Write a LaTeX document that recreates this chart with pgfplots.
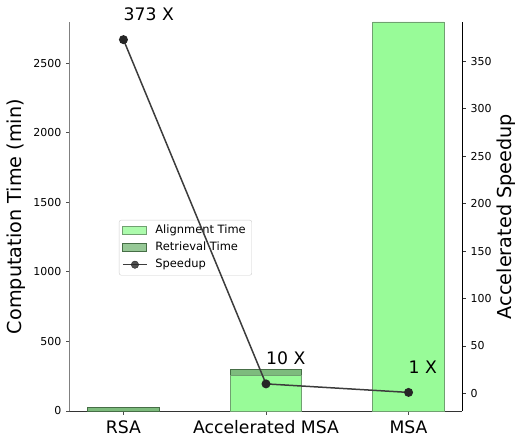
\documentclass[border=0pt]{standalone}
\usepackage{fontspec}
\setmainfont{DejaVu Sans}
\usepackage{pgfplots}
\pgfplotsset{compat=1.18}
\definecolor{alignfill}{RGB}{152,251,152}
\definecolor{alignedge}{RGB}{112,160,112}
\definecolor{retfill}{RGB}{125,187,125}
\definecolor{retedge}{RGB}{70,110,70}
\definecolor{spline}{RGB}{60,60,60}
\pgfplotsset{barlegend/.style={legend image code/.code={\draw[##1, sharp corners] (0bp,-3.5bp) rectangle (24bp,4bp); \path (29bp,0bp);}}}
\begin{document}
\begin{tikzpicture}
\path[use as bounding box] (-70bp,-26bp) rectangle (447bp,411bp);
\begin{axis}[
  at={(0bp,0bp)}, anchor=south west,
  scale only axis, width=392bp, height=389bp,
  xmin=-0.375, xmax=2.375, ymin=0, ymax=2795,
  clip=false,
  ybar stacked, bar width=71.3bp,
  axis x line*=bottom, axis y line*=left,
  x axis line style={black!80, line width=0.8bp, -},
  y axis line style={black!50, line width=1bp, -},
  xtick={0,1,2}, xticklabels={RSA, Accelerated MSA, MSA},
  ytick={0,500,1000,1500,2000,2500},
  /pgf/number format/.cd, 1000 sep={}, assume math mode=true, /pgfplots/.cd,
  tick align=outside, major tick length=3.5bp,
  tick style={black!70, line width=0.8bp},
  xticklabel style={font=\fontsize{17.3}{20}\selectfont, inner sep=0pt, anchor=base, yshift=-18.5bp},
  yticklabel style={font=\fontsize{11}{13}\selectfont, inner sep=0pt, anchor=east, xshift=-5bp},
  ylabel={Computation Time (min)},
  ylabel style={font=\fontsize{19.3}{23}\selectfont, inner sep=0pt, at={([xshift=-44bp]axis description cs:0,0.5)}, anchor=south},
  legend cell align=left,
  legend style={at={(axis description cs:0.125,0.491)}, anchor=north west,
    font=\fontsize{11.5}{13}\selectfont, draw=black!20, rounded corners=2bp,
    fill=white, fill opacity=0.8, text opacity=1, inner xsep=3bp, inner ysep=2bp,
    nodes={inner xsep=3bp, inner ysep=3bp, text height=8.5bp, text depth=2.5bp}, row sep=0pt},
]
\addplot[fill=alignfill, draw=alignedge, line width=0.9bp, barlegend]
  coordinates {(0,0) (1,254) (2,2795)};
\addlegendentry{Alignment Time}
\addplot[fill=retfill, draw=retedge, line width=0.9bp, barlegend]
  coordinates {(0,28) (1,41) (2,0)};
\addlegendentry{Retrieval Time}
\addlegendimage{legend image code/.code={\draw[spline, line width=1.5bp, sharp corners] (0bp,0bp) -- (24bp,0bp); \fill[black!85] (12bp,0bp) circle (3.7bp); \path (29bp,0bp);}}
\addlegendentry{Speedup}
\end{axis}
\begin{axis}[
  at={(0bp,0bp)}, anchor=south west,
  scale only axis, width=392bp, height=389bp,
  xmin=-0.375, xmax=2.375, ymin=-18.6, ymax=391.6,
  clip=false,
  axis x line=none, axis y line*=right,
  y axis line style={black, line width=1bp, -},
  ytick={0,50,100,150,200,250,300,350},
  /pgf/number format/.cd, 1000 sep={}, assume math mode=true, /pgfplots/.cd,
  tick align=outside, major tick length=3.5bp,
  tick style={black!80, line width=0.8bp},
  yticklabel style={font=\fontsize{11}{13}\selectfont, inner sep=0pt, anchor=west, xshift=5bp},
  ylabel={Accelerated Speedup},
  ylabel style={font=\fontsize{19.3}{23}\selectfont, inner sep=0pt, at={([xshift=35bp]axis description cs:1,0.5)}, anchor=north},
]
\addplot[spline, line width=1.5bp, mark=*, mark size=3.7bp, mark options={draw=black!85, fill=black!85}]
  coordinates {(0,373) (1,10) (2,1)};
\node[anchor=base west, inner sep=0pt, font=\fontsize{17.3}{20}\selectfont] at (axis cs:0,393) {373 X};
\node[anchor=base west, inner sep=0pt, font=\fontsize{17.3}{20}\selectfont] at (axis cs:1,30) {10 X};
\node[anchor=base west, inner sep=0pt, font=\fontsize{17.3}{20}\selectfont] at (axis cs:2,21) {1 X};
\end{axis}
\end{tikzpicture}
\end{document}
